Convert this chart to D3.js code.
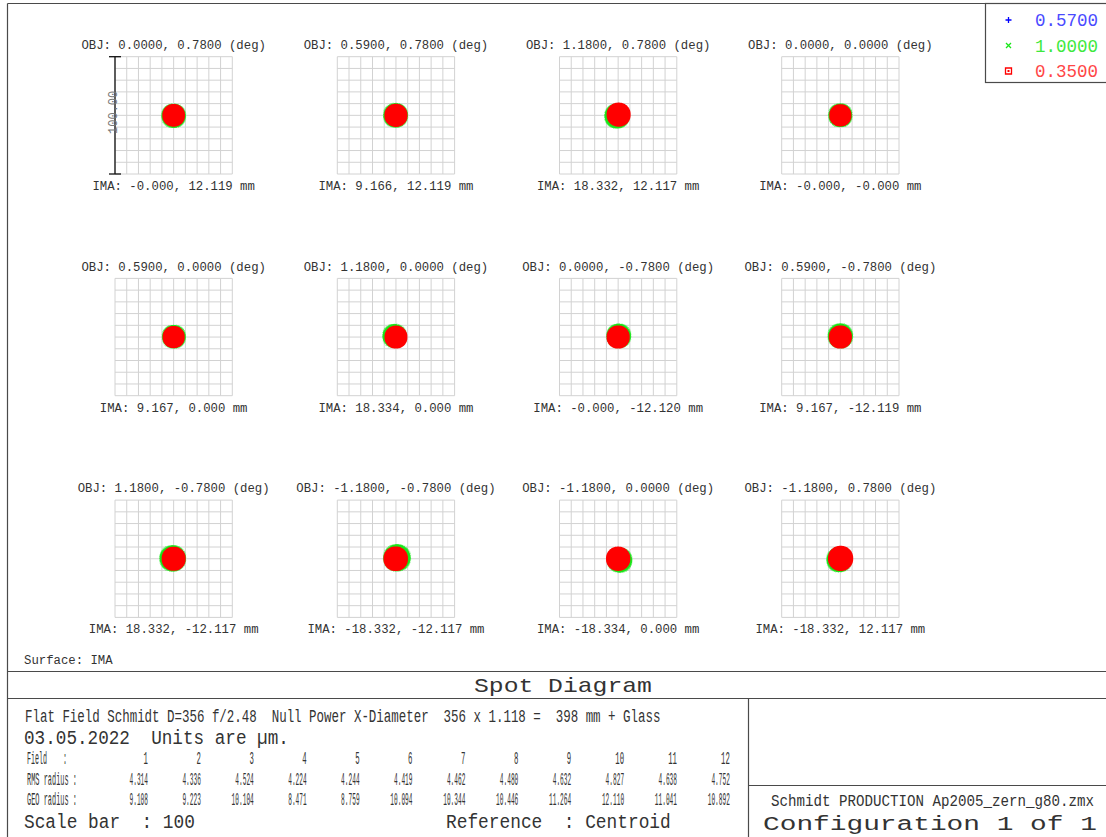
<!DOCTYPE html>
<html>
<head>
<meta charset="utf-8">
<script src="https://cdn.jsdelivr.net/npm/d3@7/dist/d3.min.js"></script>
<style>
  html, body { margin: 0; padding: 0; background: #fff; }
  svg { display: block; }
  text { font-family: "Liberation Mono", "DejaVu Sans Mono", monospace; white-space: pre; }
</style>
</head>
<body>
<svg id="chart" width="1106" height="837"></svg>
<script>
// ---- Field definitions -------------------------------------------------
const wavelengths = ["0.5700", "1.0000", "0.3500"];
const waveColors = ["#0000ff", "#19e619", "#ff0000"];
const legendTextColors = ["#4a4aff", "#3ee83e", "#ff4646"];

const objLabels = [
  "0.0000, 0.7800", "0.5900, 0.7800", "1.1800, 0.7800", "0.0000, 0.0000",
  "0.5900, 0.0000", "1.1800, 0.0000", "0.0000, -0.7800", "0.5900, -0.7800",
  "1.1800, -0.7800", "-1.1800, -0.7800", "-1.1800, 0.0000", "-1.1800, 0.7800"
];
const imaLabels = [
  "-0.000, 12.119", "9.166, 12.119", "18.332, 12.117", "-0.000, -0.000",
  "9.167, 0.000", "18.334, 0.000", "-0.000, -12.120", "9.167, -12.119",
  "18.332, -12.117", "-18.332, -12.117", "-18.334, 0.000", "-18.332, 12.117"
];
const fieldNumbers = ["1","2","3","4","5","6","7","8","9","10","11","12"];
const rmsRadius = [4.314, 4.336, 4.524, 4.224, 4.244, 4.419, 4.462, 4.480, 4.632, 4.827, 4.638, 4.752];
const geoRadius = [9.108, 9.223, 10.104, 8.471, 8.759, 10.094, 10.344, 10.446, 11.264, 12.110, 11.041, 10.892];

// Per-field spot extent (µm) and centroid shift (µm, +y up) for each wavelength
const blueR   = [6.5, 6.6, 7.0, 6.3, 6.4, 6.8, 6.8, 6.9, 7.1, 7.4, 7.1, 7.2];
const greenR  = [9.1, 9.2, 9.4, 8.9, 8.8, 9.0, 9.2, 9.4, 10.0, 10.4, 9.4, 9.5];
const greenDx = [0.0, -0.3, -1.0, 0.0, 0.2, -1.2, 0.5, 0.0, -0.8, 0.9, 1.3, -1.0];
const greenDy = [-0.4, 0.0, -0.6, 0.0, 0.3, 0.9, 1.0, 1.0, 0.3, 0.8, -1.2, -0.8];
const redR    = [8.8, 9.0, 9.4, 8.6, 8.6, 8.9, 9.0, 9.0, 9.4, 9.6, 9.5, 9.9];
const redDx   = [0.0, 0.0, 0.4, 0.0, 0.0, 0.0, 0.0, 0.0, 0.0, -0.2, 0.0, 0.2];
const redDy   = [0.0, 0.0, 0.6, 0.0, 0.0, 0.0, 0.0, 0.0, 0.0, 0.0, 0.0, 0.3];

const scaleBarValue = "100.00";
const gridTicks = d3.range(-50, 50.001, 10);   // 10 µm grid, 100 µm box

// ---- Layout -------------------------------------------------------------
const svg = d3.select("#chart");
const boxSize = 117.3;
const colLeft = [115, 337.3, 559.5, 781.7];
const rowTop = [56.7, 278.4, 500.1];
const ink = "#333";

// Outer frame and dividers
const frame = svg.append("g").attr("stroke", "#4a4a4a").attr("stroke-width", 1.2).attr("fill", "none");
frame.append("line").attr("x1", 7.5).attr("x2", 1106).attr("y1", 3.5).attr("y2", 3.5);
frame.append("line").attr("x1", 7.5).attr("x2", 7.5).attr("y1", 3.5).attr("y2", 837);
frame.append("line").attr("x1", 7.5).attr("x2", 1106).attr("y1", 671.5).attr("y2", 671.5);
frame.append("line").attr("x1", 7.5).attr("x2", 1106).attr("y1", 698.5).attr("y2", 698.5);
frame.append("line").attr("x1", 748.5).attr("x2", 748.5).attr("y1", 698.5).attr("y2", 837);
frame.append("line").attr("x1", 748.5).attr("x2", 1106).attr("y1", 785.5).attr("y2", 785.5);

// Hexapolar pupil sampling (normalised coordinates)
const rings = 16;
const pupil = [[0, 0]];
for (let k = 1; k <= rings; k++) {
  const n = 6 * k;
  for (let j = 0; j < n; j++) {
    const t = 2 * Math.PI * j / n;
    pupil.push([k / rings * Math.cos(t), k / rings * Math.sin(t)]);
  }
}

function markerPath(points, x, y, kind) {
  const p = d3.path();
  points.forEach(([u, v]) => {
    const px = x(u), py = y(v);
    if (kind === 0) {          // plus
      p.moveTo(px - 1.5, py); p.lineTo(px + 1.5, py);
      p.moveTo(px, py - 1.5); p.lineTo(px, py + 1.5);
    } else if (kind === 1) {   // cross
      p.moveTo(px - 1.3, py - 1.3); p.lineTo(px + 1.3, py + 1.3);
      p.moveTo(px - 1.3, py + 1.3); p.lineTo(px + 1.3, py - 1.3);
    } else {                   // square
      p.rect(px - 1, py - 1, 2, 2);
    }
  });
  return p.toString();
}

objLabels.forEach((obj, i) => {
  const c = i % 4, r = Math.floor(i / 4);
  const left = colLeft[c], top = rowTop[r];
  const x = d3.scaleLinear().domain([-50, 50]).range([left, left + boxSize]);
  const y = d3.scaleLinear().domain([-50, 50]).range([top + boxSize, top]);
  const g = svg.append("g");

  // grid
  g.selectAll("line.v").data(gridTicks).join("line")
    .attr("x1", d => x(d)).attr("x2", d => x(d))
    .attr("y1", y(-50)).attr("y2", y(50))
    .attr("stroke", "#d2d2d2").attr("stroke-width", 1);
  g.selectAll("line.h").data(gridTicks).join("line")
    .attr("y1", d => y(d)).attr("y2", d => y(d))
    .attr("x1", x(-50)).attr("x2", x(50))
    .attr("stroke", "#d2d2d2").attr("stroke-width", 1);

  // spots: blue, green, red (red drawn last)
  const spots = [
    { R: blueR[i], dx: 0, dy: 0 },
    { R: greenR[i], dx: greenDx[i], dy: greenDy[i] },
    { R: redR[i], dx: redDx[i], dy: redDy[i] }
  ];
  spots.forEach((s, w) => {
    const pts = pupil.map(([u, v]) => [s.dx + s.R * u, s.dy + s.R * v]);
    const path = g.append("path").attr("d", markerPath(pts, x, y, w));
    if (w === 2) path.attr("fill", waveColors[w]).attr("stroke", "none");
    else path.attr("fill", "none").attr("stroke", waveColors[w]).attr("stroke-width", 0.9);
  });

  // labels
  g.append("text").attr("x", x(0)).attr("y", top - 7.7)
    .attr("text-anchor", "middle").attr("font-size", 12.3).attr("fill", ink)
    .text(`OBJ: ${obj} (deg)`);
  g.append("text").attr("x", x(0)).attr("y", top + boxSize + 16)
    .attr("text-anchor", "middle").attr("font-size", 12.3).attr("fill", ink)
    .text(`IMA: ${imaLabels[i]} mm`);

  // scale bar on the first field
  if (i === 0) {
    const sb = g.append("g").attr("stroke", "#111").attr("stroke-width", 1.3);
    sb.append("line").attr("x1", x(-50)).attr("x2", x(-50)).attr("y1", y(50)).attr("y2", y(-50));
    sb.append("line").attr("x1", x(-50) - 6).attr("x2", x(-50) + 6).attr("y1", y(50)).attr("y2", y(50));
    sb.append("line").attr("x1", x(-50) - 6).attr("x2", x(-50) + 6).attr("y1", y(-50)).attr("y2", y(-50));
    g.append("text")
      .attr("transform", `translate(${x(-50) + 2},${y(0) - 3}) rotate(-90)`)
      .attr("text-anchor", "middle").attr("font-size", 12).attr("fill", "#777")
      .text(scaleBarValue);
  }
});

// ---- Legend -------------------------------------------------------------
const lg = svg.append("g");
lg.append("rect").attr("x", 985.5).attr("y", 3.5).attr("width", 130).attr("height", 79)
  .attr("fill", "#fff").attr("stroke", "#4a4a4a").attr("stroke-width", 1.2);
wavelengths.forEach((wl, k) => {
  const cy = 20 + k * 25.5;
  const mx = 1008.5;
  const p = d3.path();
  if (k === 0) { p.moveTo(mx - 3, cy); p.lineTo(mx + 3, cy); p.moveTo(mx, cy - 3); p.lineTo(mx, cy + 3); }
  if (k === 1) { p.moveTo(mx - 2.5, cy - 2.5); p.lineTo(mx + 2.5, cy + 2.5); p.moveTo(mx - 2.5, cy + 2.5); p.lineTo(mx + 2.5, cy - 2.5); }
  if (k === 2) { p.rect(mx - 3, cy - 3, 6, 6); }
  lg.append("path").attr("d", p.toString()).attr("fill", "none")
    .attr("stroke", waveColors[k]).attr("stroke-width", 1.3);
  if (k === 2) lg.append("rect").attr("x", mx - 1).attr("y", cy - 1).attr("width", 2).attr("height", 2).attr("fill", waveColors[k]);
  lg.append("text").attr("x", 1035).attr("y", cy + 6).attr("font-size", 17.5)
    .attr("fill", legendTextColors[k]).text(wl);
});

// ---- Text block -----------------------------------------------------------
// Text squeezed or widened horizontally to a target width, anchored at (xPos, yPos)
function stretched(txt, xPos, yPos, size, len, anchor) {
  const t = svg.append("text").attr("font-size", size).attr("fill", ink).text(txt);
  const natural = t.node().getComputedTextLength();
  const sx = len / natural;
  const x0 = anchor === "end" ? xPos - len : anchor === "middle" ? xPos - len / 2 : xPos;
  t.attr("transform", `translate(${x0},${yPos}) scale(${sx},1)`);
  return t;
}

svg.append("text").attr("x", 24).attr("y", 664).attr("font-size", 12.3).attr("fill", ink).text("Surface: IMA");
stretched("Spot Diagram", 474, 692, 21, 178);

stretched("Flat Field Schmidt D=356 f/2.48  Null Power X-Diameter  356 x 1.118 =  398 mm + Glass", 25, 722, 18, 636);
stretched("03.05.2022  Units are µm.", 24, 744, 20, 265);
stretched("Field    :", 27, 764, 18, 40);
stretched("RMS radius :", 27, 785, 18, 50);
stretched("GEO radius :", 27, 805, 18, 50);

const colRight = fieldNumbers.map((_, k) => 148 + k * 52.9);
fieldNumbers.forEach((f, k) => stretched(f, colRight[k], 764, 18, f.length * 4.4, "end"));
rmsRadius.forEach((v, k) => {
  const s = v.toFixed(3);
  stretched(s, colRight[k], 785, 18, s.length * 3.7, "end");
});
geoRadius.forEach((v, k) => {
  const s = v.toFixed(3);
  stretched(s, colRight[k], 805, 18, s.length * 3.7, "end");
});

stretched("Scale bar  : 100", 24, 828, 20, 171);
stretched("Reference  : Centroid", 446, 828, 20, 225);

stretched("Schmidt PRODUCTION Ap2005_zern_g80.zmx", 771, 806, 16, 323);
stretched("Configuration 1 of 1", 763, 830, 21, 334);
</script>
</body>
</html>
